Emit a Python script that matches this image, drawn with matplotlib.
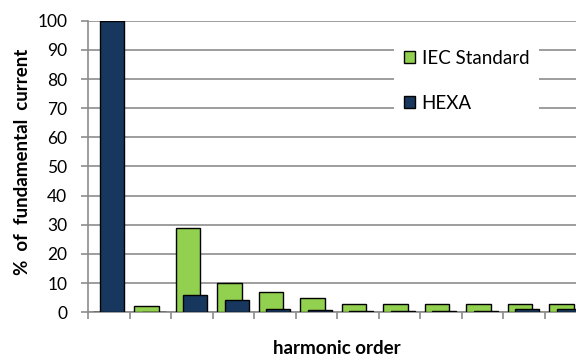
import matplotlib.pyplot as plt
import numpy as np
from matplotlib.patches import Patch

plt.rcParams['font.family'] = ['Lato', 'DejaVu Sans']

orders = ['1', '3', '5', '7', '9', '11', '13', '15', '17', '19', '21', '23']
iec = [0, 2, 29, 10, 7, 5, 3, 3, 3, 3, 3, 3]
hexa = [100, 0.2, 6.0, 4.1, 1.0, 0.7, 0.6, 0.5, 0.4, 0.6, 1.0, 1.1]

green = '#92D050'
navy = '#17375E'
grid_c = '#8C8C8C'

fig = plt.figure(figsize=(5.76, 3.61), dpi=100)
ax = fig.add_axes([88 / 576, 1 - 312.3 / 361, 498 / 576, (312.3 - 20.7) / 361])

x = np.arange(len(orders))
w = 0.58
ax.bar(x - 0.09, iec, w, color=green, edgecolor='black', linewidth=1, zorder=3)
ax.bar(x + 0.08, hexa, w, color=navy, edgecolor='black', linewidth=1, zorder=4)

ax.set_xlim(-0.5, len(orders) - 0.5)
ax.set_ylim(0, 100)
ax.set_yticks(range(0, 101, 10))
ax.set_xticks(np.arange(len(orders) + 1) - 0.5)
ax.set_xticklabels([])
ax.yaxis.grid(True, color=grid_c, linewidth=1.2, zorder=0)
ax.set_axisbelow(True)
for s in ['top', 'right']:
    ax.spines[s].set_visible(False)
ax.spines['left'].set_color(grid_c)
ax.spines['bottom'].set_color(grid_c)
ax.spines['left'].set_linewidth(1.2)
ax.spines['bottom'].set_linewidth(1.2)
ax.tick_params(axis='both', colors=grid_c, length=5, width=1.2, labelcolor='black', labelsize=12.5)
ax.tick_params(axis='y', pad=10)

fig.text(23 / 576, 1 - 162 / 361, '%  of  fundamental  current', rotation=90, ha='center', va='center',
         fontsize=13.5, fontweight='bold')
fig.text(337 / 576, 1 - 348 / 361, 'harmonic order', ha='center', va='center',
         fontsize=13.5, fontweight='bold')

handles = [Patch(facecolor=green, edgecolor='black', label='IEC Standard'),
           Patch(facecolor=navy, edgecolor='black', label='HEXA')]
leg = fig.legend(handles=handles, loc='upper left', bbox_to_anchor=(385 / 576, 1 - 31 / 361),
                 frameon=True, facecolor='white', edgecolor='none', framealpha=1, fancybox=False,
                 fontsize=13.5, handlelength=0.6, handleheight=0.6, handletextpad=0.35,
                 labelspacing=1.5, borderpad=0.5)

fig.savefig('out.png', dpi=100)
